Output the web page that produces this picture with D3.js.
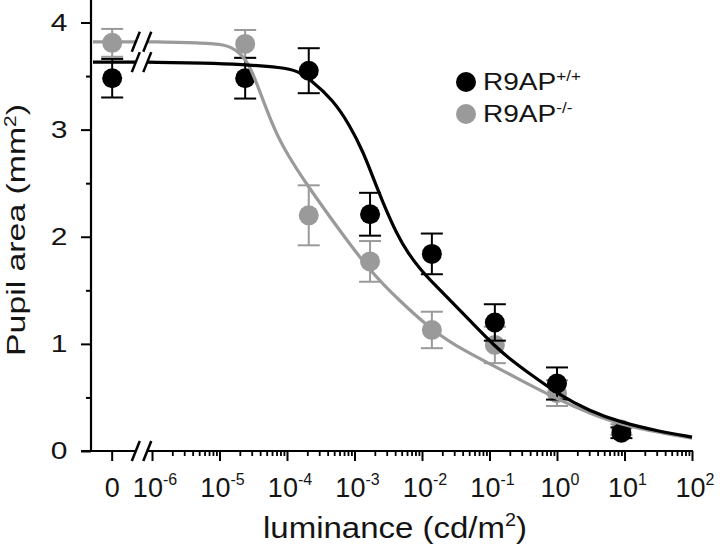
<!DOCTYPE html>
<html><head><meta charset="utf-8">
<script src="https://cdn.jsdelivr.net/npm/d3@7"></script>
<style>
body{margin:0;background:#fff}
svg{display:block}
text{font-family:"Liberation Sans",Arial,Helvetica,sans-serif;fill:#141414}
</style>
</head><body>
<svg id="chart" width="720" height="554"></svg>
<script>
// ---------- data ----------
const luminance = [0, 2.4e-5, 2.1e-4, 1.7e-3, 1.4e-2, 0.12, 1.0, 9.0]; // cd/m2, first = dark (0)
const wtMean = [3.48, 3.48, 3.55, 2.21, 1.84, 1.20, 0.63, 0.17];
const wtErr  = [0.18, 0.19, 0.21, 0.20, 0.19, 0.17, 0.15, 0.05];
const koMean = [3.81, 3.80, 2.20, 1.77, 1.13, 0.99, 0.54, 0.20];
const koErr  = [0.13, 0.13, 0.28, 0.19, 0.17, 0.17, 0.12, 0.05];

// fitted curves (log10 luminance, area)
const wtFitLogLum = [-6.07, -5.19, -4.70, -4.06, -3.85, -3.66, -3.32, -3.07, -2.87, -2.73, -2.58, -2.37, -2.20, -2.03, -1.84, -1.54, -1.19, -0.92, -0.74, -0.36, 0.02, 0.49, 0.93, 1.53, 2.00];
const wtFitValue  = [3.63, 3.62, 3.61, 3.58, 3.55, 3.47, 3.28, 3.04, 2.79, 2.56, 2.32, 2.02, 1.84, 1.70, 1.57, 1.38, 1.15, 0.98, 0.88, 0.70, 0.53, 0.37, 0.27, 0.18, 0.13];
const koFitLogLum = [-6.07, -5.19, -4.92, -4.84, -4.70, -4.55, -4.40, -4.25, -4.06, -3.69, -3.21, -2.77, -2.33, -1.84, -1.36, -0.92, -0.55, 0.02, 0.49, 0.93, 1.53, 2.00];
const koFitValue  = [3.82, 3.81, 3.79, 3.77, 3.72, 3.60, 3.35, 3.10, 2.83, 2.47, 2.05, 1.68, 1.40, 1.12, 0.93, 0.79, 0.665, 0.48, 0.35, 0.25, 0.17, 0.12];

const yTicks = [0, 1, 2, 3, 4];
const yMinorTicks = [0.5, 1.5, 2.5, 3.5];
const xTickExponents = [-6, -5, -4, -3, -2, -1, 0, 1, 2];
const xZeroLabel = "0";
const seriesLabels = ["R9AP", "R9AP"];
const seriesSupers = ["+/+", "-/-"];
const yTitle = "Pupil area (mm";
const xTitle = "luminance (cd/m";

// ---------- layout ----------
const BLACK = "#000", GREY = "#9a9a9a";
const axisX = 91, axisY = 451;
const yScale = d3.scaleLinear().domain([0, 4.21]).range([axisY, 0]);
const xLog = d3.scaleLog().domain([1e-6, 1e2]).range([152, 692]);
const zeroExp = -6.59;              // where the "0" category sits
const breakExp = [-6.24, -6.07];    // axis break
const xPos = v => v === 0 ? xLog(Math.pow(10, zeroExp)) : xLog(v);
const xBreak = breakExp.map(e => xLog(Math.pow(10, e)));

const svg = d3.select("#chart");

// ---------- y axis ----------
const yAxis = svg.append("g").attr("transform", `translate(${axisX},0)`)
  .call(d3.axisLeft(yScale).tickValues(yTicks).tickSize(10).tickSizeOuter(0).tickPadding(8).tickFormat(d3.format("d")));
yAxis.select(".domain").remove();
yAxis.selectAll(".tick line").attr("stroke", BLACK).attr("stroke-width", 2);
yAxis.selectAll(".tick text").attr("font-size", 24).attr("fill", "#141414")
  .attr("font-family", "Liberation Sans, Arial, sans-serif")
  .attr("transform", "scale(1.25,1)").attr("x", -18.5 / 1.25 - 4);
const yMinor = svg.append("g").attr("transform", `translate(${axisX},0)`)
  .call(d3.axisLeft(yScale).tickValues(yMinorTicks).tickSize(5).tickFormat(""));
yMinor.select(".domain").remove();
yMinor.selectAll(".tick line").attr("stroke", BLACK).attr("stroke-width", 2);
svg.append("line").attr("x1", axisX).attr("x2", axisX).attr("y1", yScale.range()[1]).attr("y2", axisY + 1)
  .attr("stroke", BLACK).attr("stroke-width", 2.2);

// ---------- x axis ----------
const majorVals = xTickExponents.map(e => Math.pow(10, e));
const minorVals = [];
xTickExponents.slice(0, -1).forEach(e => { for (let m = 2; m <= 9; m++) minorVals.push(m * Math.pow(10, e)); });

const xMaj = svg.append("g").attr("transform", `translate(0,${axisY})`)
  .call(d3.axisBottom(xLog).tickValues(majorVals).tickSize(10).tickSizeOuter(0).tickFormat(""));
xMaj.select(".domain").remove();
xMaj.selectAll(".tick line").attr("stroke", BLACK).attr("stroke-width", 2);
const xMin = svg.append("g").attr("transform", `translate(0,${axisY})`)
  .call(d3.axisBottom(xLog).tickValues(minorVals).tickSize(5).tickSizeOuter(0).tickFormat(""));
xMin.select(".domain").remove();
xMin.selectAll(".tick line").attr("stroke", BLACK).attr("stroke-width", 1.8);
// zero tick
svg.append("line").attr("x1", xPos(0)).attr("x2", xPos(0)).attr("y1", axisY).attr("y2", axisY + 10)
  .attr("stroke", BLACK).attr("stroke-width", 2);
// axis line in two pieces around the break
svg.append("line").attr("x1", axisX - 10).attr("x2", xBreak[0]).attr("y1", axisY).attr("y2", axisY)
  .attr("stroke", BLACK).attr("stroke-width", 2.2);
svg.append("line").attr("x1", xBreak[1]).attr("x2", xLog.range()[1] + 1).attr("y1", axisY).attr("y2", axisY)
  .attr("stroke", BLACK).attr("stroke-width", 2.2);

// x tick labels
const xLab = svg.append("g").attr("font-size", 27);
xLab.append("text").attr("x", xPos(0)).attr("y", 497).attr("text-anchor", "middle").text(xZeroLabel);
xTickExponents.forEach(e => {
  const t = xLab.append("text").attr("x", xLog(Math.pow(10, e)) + 3).attr("y", 497).attr("text-anchor", "middle");
  t.append("tspan").text("10");
  t.append("tspan").attr("dy", -12).attr("font-size", 16).text(e < 0 ? "-" + Math.abs(e) : String(e));
});

// ---------- titles ----------
const yt = svg.append("text").attr("text-anchor", "middle").attr("font-size", 26)
  .attr("transform", `translate(25,230) rotate(-90) scale(1.3,1)`);
yt.append("tspan").text(yTitle);
yt.append("tspan").attr("dy", -9).attr("font-size", 16).text("2");
yt.append("tspan").attr("dy", 9).text(")");

const xt = svg.append("text").attr("text-anchor", "middle").attr("font-size", 30)
  .attr("transform", `translate(395,538) scale(1.1,1)`);
xt.append("tspan").text(xTitle);
xt.append("tspan").attr("dy", -12).attr("font-size", 18).text("2");
xt.append("tspan").attr("dy", 12).text(")");

// ---------- data marks ----------
function drawPoints(means, errs, color) {
  const g = svg.append("g");
  luminance.forEach((l, i) => {
    const x = xPos(l), yt = yScale(means[i] + errs[i]), yb = yScale(means[i] - errs[i]);
    g.append("line").attr("x1", x).attr("x2", x).attr("y1", yt).attr("y2", yb).attr("stroke", color).attr("stroke-width", 2);
    [yt, yb].forEach(y => g.append("line").attr("x1", x - 11).attr("x2", x + 11).attr("y1", y).attr("y2", y)
      .attr("stroke", color).attr("stroke-width", 2));
    g.append("circle").attr("cx", x).attr("cy", yScale(means[i])).attr("r", 10).attr("fill", color);
  });
}
drawPoints(koMean, koErr, GREY);
drawPoints(wtMean, wtErr, BLACK);

const line = d3.line().x(d => xLog(Math.pow(10, d[0]))).y(d => yScale(d[1])).curve(d3.curveBasis);
function drawCurve(logs, vals, color) {
  const pts = logs.map((l, i) => [l, vals[i]]);
  svg.append("path").attr("d", line(pts)).attr("fill", "none").attr("stroke", color).attr("stroke-width", 3.2);
  svg.append("line").attr("x1", axisX + 2).attr("x2", xBreak[0]).attr("y1", yScale(vals[0])).attr("y2", yScale(vals[0]))
    .attr("stroke", color).attr("stroke-width", 3.2);
}
drawCurve(koFitLogLum, koFitValue, GREY);
drawCurve(wtFitLogLum, wtFitValue, BLACK);

// break marks
function slashes(y) {
  xBreak.forEach(x => svg.append("line").attr("x1", x - 4).attr("x2", x + 4).attr("y1", y + 10).attr("y2", y - 10)
    .attr("stroke", BLACK).attr("stroke-width", 2.5));
}
slashes(axisY);
slashes(yScale(koFitValue[0]));
slashes(yScale(wtFitValue[0]));

// ---------- legend ----------
const leg = svg.append("g");
[[BLACK, 82], [GREY, 114]].forEach(([c, y], i) => {
  leg.append("circle").attr("cx", 466).attr("cy", y).attr("r", 10).attr("fill", c);
  const t = leg.append("text").attr("font-size", 23).attr("transform", `translate(483,${y + 8}) scale(1.22,1)`);
  t.append("tspan").text(seriesLabels[i]);
  t.append("tspan").attr("dy", -9).attr("font-size", 14).text(seriesSupers[i]);
});
</script>
</body></html>
